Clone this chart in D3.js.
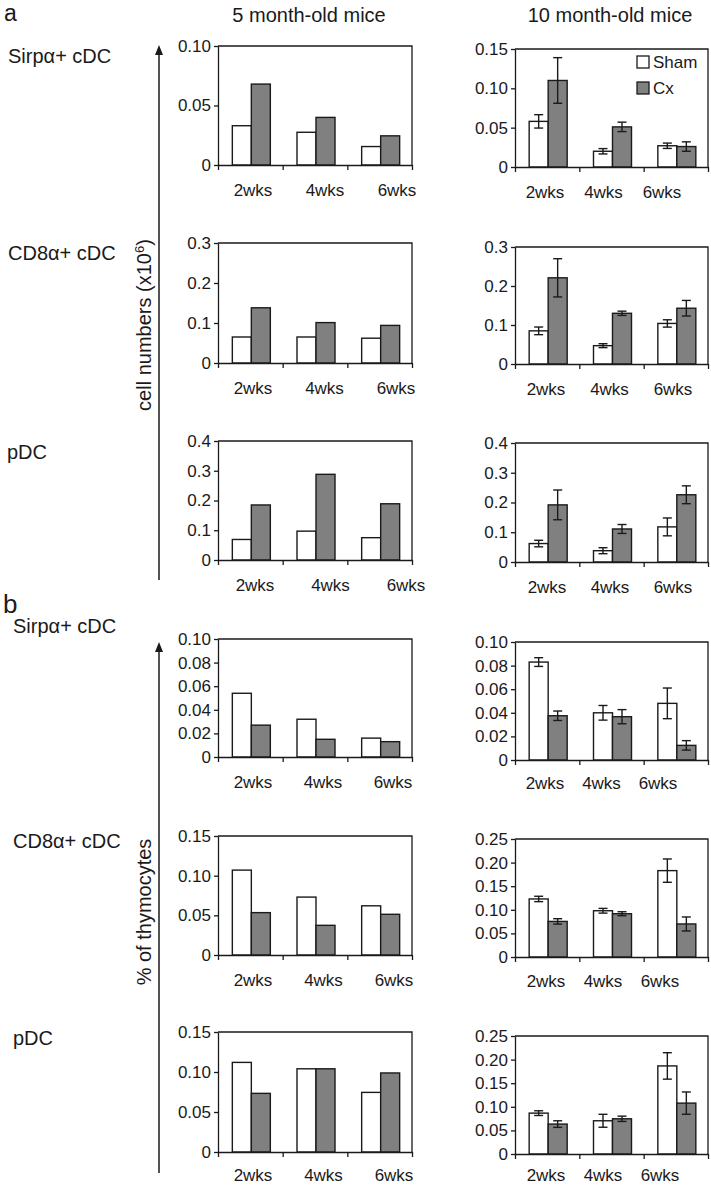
<!DOCTYPE html>
<html><head><meta charset="utf-8">
<script src="https://cdn.jsdelivr.net/npm/d3@7"></script>
<style>
html,body{margin:0;padding:0;background:#fff;}
svg{display:block;font-family:"Liberation Sans",Arial,Helvetica,sans-serif;}
</style></head>
<body>
<svg id="c" width="711" height="1187"></svg>
<script>
// ---------- data ----------
const weeks = ["2wks", "4wks", "6wks"];
const series = ["Sham", "Cx"];
const cellTypes = ["Sirp\u03b1+ cDC", "CD8\u03b1+ cDC", "pDC"];
const ages = ["5 month-old mice", "10 month-old mice"];
const sectionLetters = ["a", "b"];
const yAxisTitleA = "cell numbers (x10";
const yAxisTitleASup = "6";
const yAxisTitleB = "% of thymocytes";

// section a : cell numbers (x10^6)
const aSirp5Sham = [0.033, 0.0275, 0.0155];
const aSirp5Cx = [0.068, 0.040, 0.0245];
const aSirp10Sham = [0.058, 0.020, 0.027];
const aSirp10ShamErr = [0.0085, 0.0034, 0.0034];
const aSirp10Cx = [0.110, 0.051, 0.026];
const aSirp10CxErr = [0.029, 0.006, 0.006];

const aCD85Sham = [0.065, 0.065, 0.062];
const aCD85Cx = [0.138, 0.101, 0.094];
const aCD810Sham = [0.085, 0.047, 0.104];
const aCD810ShamErr = [0.0098, 0.005, 0.0094];
const aCD810Cx = [0.221, 0.130, 0.143];
const aCD810CxErr = [0.049, 0.0055, 0.020];

const apDC5Sham = [0.069, 0.097, 0.075];
const apDC5Cx = [0.185, 0.288, 0.189];
const apDC10Sham = [0.062, 0.038, 0.118];
const apDC10ShamErr = [0.011, 0.010, 0.030];
const apDC10Cx = [0.192, 0.111, 0.226];
const apDC10CxErr = [0.050, 0.015, 0.030];

// section b : % of thymocytes
const bSirp5Sham = [0.054, 0.032, 0.016];
const bSirp5Cx = [0.027, 0.015, 0.013];
const bSirp10Sham = [0.083, 0.040, 0.048];
const bSirp10ShamErr = [0.0037, 0.0062, 0.013];
const bSirp10Cx = [0.0375, 0.0367, 0.0124];
const bSirp10CxErr = [0.004, 0.006, 0.004];

const bCD85Sham = [0.107, 0.073, 0.062];
const bCD85Cx = [0.0534, 0.0374, 0.0513];
const bCD810Sham = [0.123, 0.098, 0.183];
const bCD810ShamErr = [0.0057, 0.005, 0.0247];
const bCD810Cx = [0.0754, 0.0917, 0.070];
const bCD810CxErr = [0.0057, 0.0042, 0.0148];

const bpDC5Sham = [0.112, 0.104, 0.0745];
const bpDC5Cx = [0.0733, 0.104, 0.0988];
const bpDC10Sham = [0.0866, 0.0704, 0.1866];
const bpDC10ShamErr = [0.005, 0.0137, 0.028];
const bpDC10Cx = [0.0634, 0.0746, 0.1078];
const bpDC10CxErr = [0.007, 0.0056, 0.0236];

// tick values
const ticksA = [0, 0.05, 0.10];
const ticksB = [0, 0.05, 0.10, 0.15];
const ticksC = [0, 0.1, 0.2, 0.3];
const ticksD = [0, 0.1, 0.2, 0.3, 0.4];
const ticksE = [0, 0.02, 0.04, 0.06, 0.08, 0.10];
const ticksF = [0, 0.05, 0.10, 0.15, 0.20, 0.25];

// ---------- layout ----------
const colX = [[218, 412], [515, 708]];
const panels = [
  {col:0, y:[46,165],  ticks:ticksA, dec:2, sham:aSirp5Sham, cx:aSirp5Cx, lab:[253,397], lo:31},
  {col:1, y:[49,167],  ticks:ticksB, dec:2, sham:aSirp10Sham, cx:aSirp10Cx, shamErr:aSirp10ShamErr, cxErr:aSirp10CxErr, lab:[545,662], lo:31, legend:true},
  {col:0, y:[243,363], ticks:ticksC, dec:1, sham:aCD85Sham, cx:aCD85Cx, lab:[253,396], lo:31},
  {col:1, y:[247,364], ticks:ticksC, dec:1, sham:aCD810Sham, cx:aCD810Cx, shamErr:aCD810ShamErr, cxErr:aCD810CxErr, lab:[546,673], lo:31},
  {col:0, y:[441,560], ticks:ticksD, dec:1, sham:apDC5Sham, cx:apDC5Cx, lab:[255,406], lo:31},
  {col:1, y:[443,562], ticks:ticksD, dec:1, sham:apDC10Sham, cx:apDC10Cx, shamErr:apDC10ShamErr, cxErr:apDC10CxErr, lab:[547,673], lo:31},
  {col:0, y:[639,757], ticks:ticksE, dec:2, sham:bSirp5Sham, cx:bSirp5Cx, lab:[253,393], lo:31},
  {col:1, y:[642,760], ticks:ticksE, dec:2, sham:bSirp10Sham, cx:bSirp10Cx, shamErr:bSirp10ShamErr, cxErr:bSirp10CxErr, lab:[545,658], lo:29},
  {col:0, y:[836,955], ticks:ticksB, dec:2, sham:bCD85Sham, cx:bCD85Cx, lab:[253,394], lo:31},
  {col:1, y:[839,957], ticks:ticksF, dec:2, sham:bCD810Sham, cx:bCD810Cx, shamErr:bCD810ShamErr, cxErr:bCD810CxErr, lab:[546,660], lo:30},
  {col:0, y:[1032,1152], ticks:ticksB, dec:2, sham:bpDC5Sham, cx:bpDC5Cx, lab:[253,394], lo:29},
  {col:1, y:[1036,1154], ticks:ticksF, dec:2, sham:bpDC10Sham, cx:bpDC10Cx, shamErr:bpDC10ShamErr, cxErr:bpDC10CxErr, lab:[546,660], lo:27}
];
const rowLabelPos = [[8,63],[8,260],[7,459],[13,633],[13,848],[13,1045]];
const ink = "#1a1a1a";
const colors = {Sham:"#ffffff", Cx:"#808080"};

const svg = d3.select("#c");

// section letters
svg.append("text").attr("x",4).attr("y",21).attr("font-size",23).attr("fill",ink).text(sectionLetters[0]);
svg.append("text").attr("x",3).attr("y",613).attr("font-size",26).attr("fill",ink).text(sectionLetters[1]);

// column titles
svg.append("text").attr("x",309).attr("y",22).attr("text-anchor","middle").attr("font-size",20).attr("fill",ink).text(ages[0]);
svg.append("text").attr("x",610).attr("y",22).attr("text-anchor","middle").attr("font-size",20).attr("fill",ink).text(ages[1]);

// row labels
rowLabelPos.forEach((p,i)=>{
  svg.append("text").attr("x",p[0]).attr("y",p[1]).attr("font-size",20).attr("fill",ink).text(cellTypes[i%3]);
});

// y arrows
function arrow(x, yTip, yBot){
  svg.append("line").attr("x1",x).attr("x2",x).attr("y1",yTip+4).attr("y2",yBot).attr("stroke",ink).attr("stroke-width",1.5);
  svg.append("path").attr("d",`M${x},${yTip} L${x-4},${yTip+10} L${x+4},${yTip+10} Z`).attr("fill",ink);
}
arrow(159, 45, 580);
arrow(159, 642, 1173);

// y axis titles (rotated)
const tA = svg.append("text").attr("transform","translate(151,325) rotate(-90)").attr("text-anchor","middle").attr("font-size",20).attr("fill",ink);
tA.append("tspan").text(yAxisTitleA);
tA.append("tspan").attr("dy",-7).attr("font-size",13).text(yAxisTitleASup);
tA.append("tspan").attr("dy",7).text(")");
svg.append("text").attr("transform","translate(151,912) rotate(-90)").attr("text-anchor","middle").attr("font-size",20).attr("fill",ink).text(yAxisTitleB);

// panels
panels.forEach(p=>{
  const [x0,x1] = colX[p.col];
  const [yTop,yBot] = p.y;
  const g = svg.append("g");
  const y = d3.scaleLinear().domain([0, p.ticks[p.ticks.length-1]]).range([yBot,yTop]);
  const xb = d3.scaleBand().domain(weeks).range([x0,x1]).padding(0);
  const xs = d3.scaleBand().domain(series).range([0, 38]);
  const xl = d3.scaleLinear().domain([0,weeks.length]).range([x0,x1]);

  // frame top/right
  g.append("path").attr("d",`M${x0},${yTop} H${x1} V${yBot}`).attr("fill","none").attr("stroke",ink).attr("stroke-width",1.3);

  // bars
  const rows = weeks.map((w,i)=>({w, vals:[
    {s:"Sham", v:p.sham[i], e:p.shamErr?p.shamErr[i]:null},
    {s:"Cx", v:p.cx[i], e:p.cxErr?p.cxErr[i]:null}]}));
  const grp = g.selectAll("g.grp").data(rows).join("g")
    .attr("transform",d=>`translate(${xb(d.w)+xb.bandwidth()/2+1-19},0)`);
  grp.selectAll("rect").data(d=>d.vals).join("rect")
    .attr("x",d=>xs(d.s)).attr("width",xs.bandwidth())
    .attr("y",d=>y(d.v)).attr("height",d=>y(0)-y(d.v))
    .attr("fill",d=>colors[d.s]).attr("stroke",ink).attr("stroke-width",1.4);
  const eb = grp.selectAll("g.eb").data(d=>d.vals.filter(v=>v.e!==null)).join("g").attr("class","eb");
  eb.append("line").attr("x1",d=>xs(d.s)+xs.bandwidth()/2).attr("x2",d=>xs(d.s)+xs.bandwidth()/2)
    .attr("y1",d=>y(d.v+d.e)).attr("y2",d=>y(d.v-d.e)).attr("stroke",ink).attr("stroke-width",1.4);
  [1,-1].forEach(sg=>{
    eb.append("line").attr("x1",d=>xs(d.s)+xs.bandwidth()/2-4.5).attr("x2",d=>xs(d.s)+xs.bandwidth()/2+4.5)
      .attr("y1",d=>y(d.v+sg*d.e)).attr("y2",d=>y(d.v+sg*d.e)).attr("stroke",ink).attr("stroke-width",1.4);
  });

  // y axis
  const fmt = v => v===0 ? "0" : v.toFixed(p.dec);
  const ya = g.append("g").attr("transform",`translate(${x0},0)`)
    .call(d3.axisLeft(y).tickValues(p.ticks).tickSize(4).tickSizeOuter(0).tickPadding(3).tickFormat(fmt));
  ya.selectAll("path,line").attr("stroke",ink).attr("stroke-width",1.3);
  ya.selectAll("text").attr("font-size",17).attr("fill",ink);
  ya.attr("font-family",null);

  // x axis (ticks at band boundaries)
  const xa = g.append("g").attr("transform",`translate(0,${yBot})`)
    .call(d3.axisBottom(xl).tickValues(d3.range(weeks.length+1)).tickSize(5).tickSizeOuter(0).tickFormat(""));
  xa.selectAll("path,line").attr("stroke",ink).attr("stroke-width",1.3);

  // x labels
  const lp = d3.scalePoint().domain(weeks).range(p.lab);
  g.selectAll("text.xl").data(weeks).join("text").attr("class","xl")
    .attr("x",d=>lp(d)).attr("y",yBot+p.lo).attr("text-anchor","middle")
    .attr("font-size",17).attr("fill",ink).text(d=>d);

  // legend
  if(p.legend){
    series.forEach((s,i)=>{
      g.append("rect").attr("x",637).attr("y",56+26*i).attr("width",12).attr("height",12)
        .attr("fill",colors[s]).attr("stroke",ink).attr("stroke-width",1.3);
      g.append("text").attr("x",653).attr("y",68+26*i).attr("font-size",17).attr("fill",ink).text(s);
    });
  }
});
</script>
</body></html>
